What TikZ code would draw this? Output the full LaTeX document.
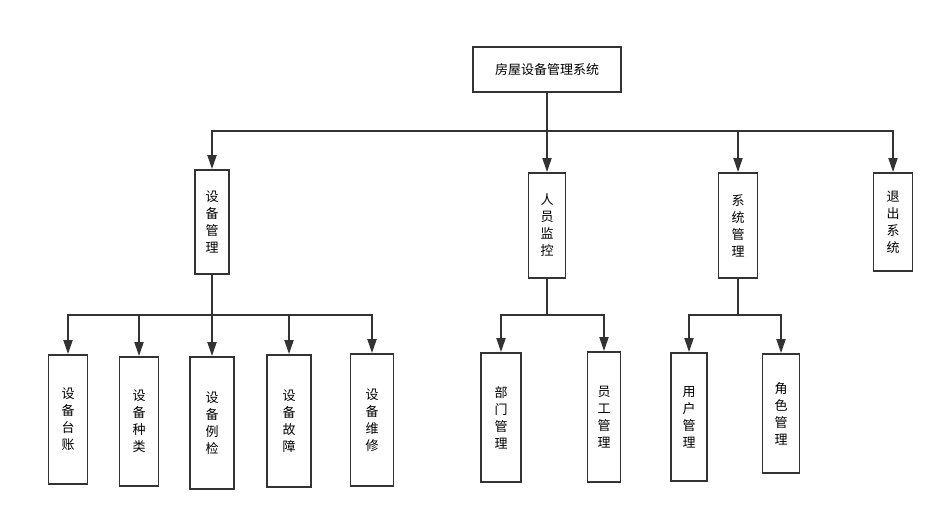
\documentclass[tikz,border=0pt]{standalone}
\usepackage{fontspec}
\newfontfamily\cjk{Noto Sans CJK SC}
\usetikzlibrary{arrows.meta}
\definecolor{linegray}{HTML}{333333}
\begin{document}
\begin{tikzpicture}[x=1pt,y=-1pt,
    box/.style={draw=linegray,line width=1.8pt,fill=white,inner sep=0pt,align=center,
        font=\cjk\fontsize{13}{17}\selectfont},
    link/.style={draw=linegray,line width=1.8pt,-{Triangle[length=14pt,width=9pt]}}]
        \useasboundingbox (0,0) rectangle (945,520);
        % top
        \node (root) at (547,69.5) [box,minimum width=148pt,minimum height=45pt] {房屋设备管理系统};

        \node (sbgl) at (212,222) [box,minimum width=34pt,minimum height=104pt] {设\\备\\管\\理};
        \node (rykz) at (547,225.5) [box,minimum width=37pt,minimum height=105pt] {人\\员\\监\\控};
        \node (xtgl) at (738,225.5) [box,minimum width=39pt,minimum height=105pt] {系\\统\\管\\理};
        \node (tcxt) at (893,222) [box,minimum width=39pt,minimum height=98pt] {退\\出\\系\\统};

        % equipment
        \node (sbtz) at (68,419.5) [box,minimum width=39pt,minimum height=129pt] {设\\备\\台\\账};
        \node (sbzl) at (139,421.5) [box,minimum width=39pt,minimum height=129pt] {设\\备\\种\\类};
        \node (sbjj) at (212,423) [box,minimum width=44pt,minimum height=132pt] {设\\备\\例\\检};
        \node (sbgz) at (289,421) [box,minimum width=44pt,minimum height=132pt] {设\\备\\故\\障};
        \node (sbwx) at (372,420) [box,minimum width=43pt,minimum height=132pt] {设\\备\\维\\修};

        % staff
        \node (bmgl) at (501,417.5) [box,minimum width=40pt,minimum height=129pt] {部\\门\\管\\理};
        \node (yggl) at (604,417) [box,minimum width=33pt,minimum height=130pt] {员\\工\\管\\理};

        % system
        \node (yhgl) at (689,417) [box,minimum width=36pt,minimum height=128pt] {用\\户\\管\\理};
        \node (jsgl) at (781,413.5) [box,minimum width=37pt,minimum height=119pt] {角\\色\\管\\理};

        \coordinate (bus0) at (547,131);
        \coordinate (bus1) at (212,315);
        \coordinate (bus2) at (547,315);
        \coordinate (bus3) at (738,315);

        \draw[link] (root.south) -- (bus0) -| (sbgl.north);
        \draw[link] (bus0) -- (rykz.north);
        \draw[link] (bus0) -| (xtgl.north);
        \draw[link] (bus0) -| (tcxt.north);

        \draw[link] (sbgl.south) -- (bus1) -| (sbtz.north);
        \draw[link] (bus1) -| (sbzl.north);
        \draw[link] (bus1) -- (sbjj.north);
        \draw[link] (bus1) -| (sbgz.north);
        \draw[link] (bus1) -| (sbwx.north);

        \draw[link] (rykz.south) -- (bus2) -| (bmgl.north);
        \draw[link] (bus2) -| (yggl.north);

        \draw[link] (xtgl.south) -- (bus3) -| (yhgl.north);
        \draw[link] (bus3) -| (jsgl.north);
\end{tikzpicture}
\end{document}
